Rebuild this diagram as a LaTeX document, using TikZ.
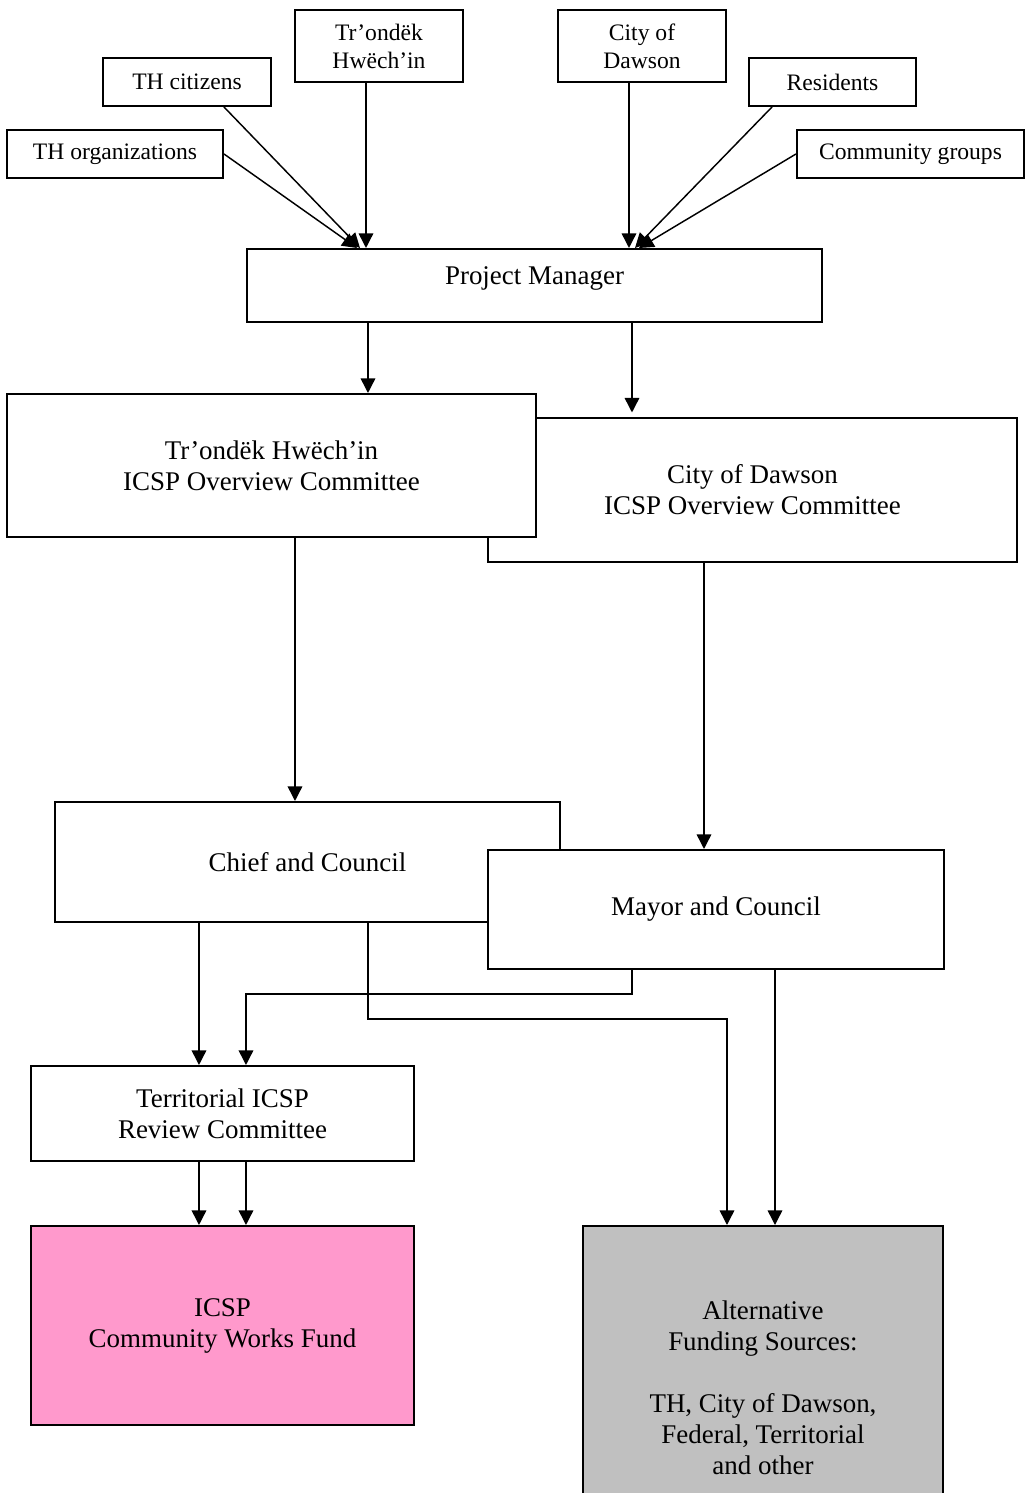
\documentclass[tikz,border=0pt]{standalone}
\usepackage{fontspec}
\setmainfont{Liberation Serif}
\definecolor{fundpink}{RGB}{255,153,204}
\definecolor{altgray}{RGB}{192,192,192}
\usetikzlibrary{arrows.meta,calc}

\begin{document}
\begin{tikzpicture}[x=0.445pt, y=-0.445pt, every node/.style={font=\fontsize{12}{13.8}\selectfont},
  bx/.style 2 args={draw, line width=0.9pt, inner sep=0pt, align=center, fill=white,
    minimum width=#1*0.445pt, minimum height=#2*0.445pt},
  sm/.style={font=\fontsize{10.5}{12.5}\selectfont},
  arr/.style={-{Triangle[length=6.5pt,width=6.5pt]}, line width=0.65pt}]
\useasboundingbox (0,0) rectangle (1027,1493);
% inputs
\node[bx={216}{48}, sm] (thorg) at (115,154) {TH organizations};
\node[bx={168}{48}, sm] (thcit) at (187,82) {TH citizens};
\node[bx={168}{72}, sm] (trhwe) at (379,46) {Tr’ondëk\\Hwëch’in};
\node[bx={168}{72}, sm] (dawson) at (642,46) {City of\\Dawson};
\node[bx={167}{48}, sm] (resid) at (832.5,82) {Residents};
\node[bx={227}{48}, sm] (commgr) at (910.5,154) {Community groups};
\node[bx={575}{73}, text depth=9pt] (pm) at (534.5,285.5) {Project Manager};
% committees
\node[bx={529}{144}] (cdcom) at (752.5,490) {City of Dawson\\ICSP Overview Committee};
\node[bx={529}{143}] (thcom) at (271.5,465.5) {Tr’ondëk Hwëch’in\\ICSP Overview Committee};
\node[bx={505}{120}] (chief) at (307.5,862) {Chief and Council};
\node[bx={456}{119}] (mayor) at (716,909.5) {Mayor and Council};
\node[bx={383}{95}] (trc) at (222.5,1113.5) {Territorial ICSP\\Review Committee};
% funds
\node[bx={383}{199}, fill=fundpink] (cwf) at (222.5,1325.5) {ICSP\\Community Works Fund};
\node[bx={360}{323}, fill=altgray] (alt) at (763,1387.5) {Alternative\\Funding Sources:\\[13.8pt]TH, City of Dawson,\\Federal, Territorial\\and other};

\draw[arr] (thorg.east) -- ($(pm.north west)+(111,0)$);
\draw[arr] ($(thcit.south)+(37,0)$) -- ($(pm.north west)+(114,0)$);
\draw[arr] ($(trhwe.south west)+(72,0)$) -- ($(pm.north west)+(120,0)$);
\draw[arr] ($(dawson.south west)+(72,0)$) -- ($(pm.north west)+(383,0)$);
\draw[arr] ($(resid.south west)+(24,0)$) -- ($(pm.north west)+(389,0)$);
\draw[arr] (commgr.west) -- ($(pm.north west)+(393,0)$);

\draw[arr] ($(pm.south west)+(122,0)$) -- ($(thcom.north west)+(362,0)$);
\draw[arr, shorten >=2pt] ($(pm.south west)+(386,0)$) -- ($(cdcom.north west)+(145,0)$);
\draw[arr] ($(thcom.south west)+(289,0)$) -- ($(chief.north west)+(241,0)$);
\draw[arr] ($(cdcom.south west)+(217,0)$) -- ($(mayor.north west)+(217,0)$);

\draw[arr] ($(chief.south west)+(145,0)$) -- ($(trc.north west)+(169,0)$);
\draw[arr] ($(mayor.south west)+(145,0)$) -- ++(0,24) -| ($(trc.north west)+(216,0)$);
\draw[arr] ($(chief.south west)+(314,0)$) -- ++(0,96) -| ($(alt.north west)+(145,0)$);
\draw[arr] ($(mayor.south west)+(288,0)$) -- ($(alt.north west)+(193,0)$);
\draw[arr] ($(trc.south west)+(169,0)$) -- ($(cwf.north west)+(169,0)$);
\draw[arr] ($(trc.south west)+(216,0)$) -- ($(cwf.north west)+(216,0)$);
\end{tikzpicture}
\end{document}
